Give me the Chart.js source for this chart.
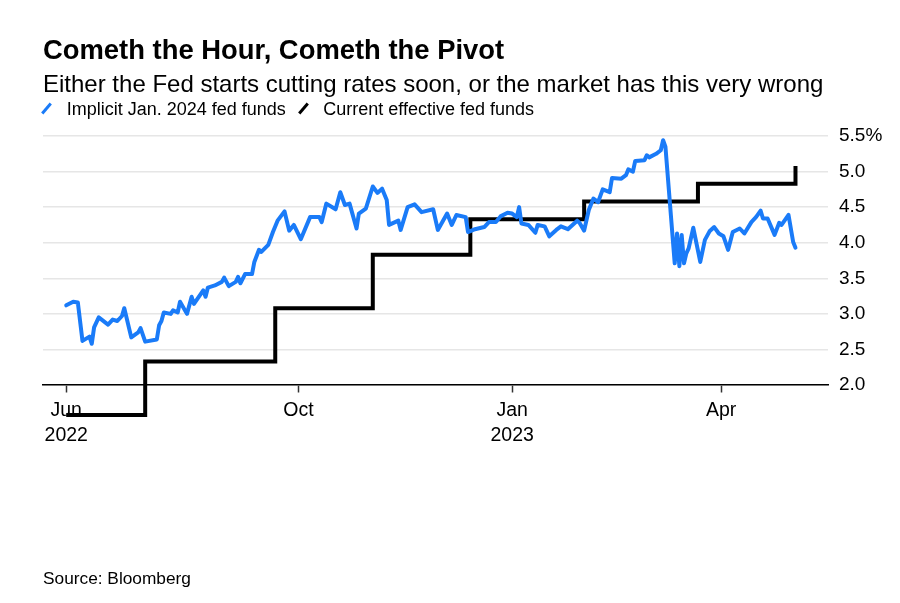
<!DOCTYPE html>
<html>
<head>
<meta charset="utf-8">
<script src="https://cdn.jsdelivr.net/npm/chart.js@4/dist/chart.umd.min.js"></script>
<style>
  html, body { margin: 0; padding: 0; background: #fff; }
  body { width: 900px; height: 603px; position: relative; overflow: hidden;
         font-family: 'Liberation Sans', Arial, Helvetica, sans-serif; color: #000; }
  .txt { position: absolute; white-space: nowrap; line-height: 1; }
  #title { left: 43px; top: 36.2px; font-size: 27.4px; font-weight: bold; }
  #subtitle { left: 43px; top: 72.4px; font-size: 24px; }
  .leg { top: 99.5px; font-size: 18px; }
  .slash { position: absolute; width: 3px; height: 13px; transform: rotate(41deg); }
  #source { left: 43px; top: 570.4px; font-size: 17.3px; }
  #chartBox { position: absolute; left: 0; top: 0; width: 900px; height: 603px; }
</style>
</head>
<body>
<div id="chartBox"><canvas id="c" width="900" height="603"></canvas></div>
<div id="title" class="txt">Cometh the Hour, Cometh the Pivot</div>
<div id="subtitle" class="txt">Either the Fed starts cutting rates soon, or the market has this very wrong</div>
<div class="slash" style="left:45.2px; top:101.7px; background:#1a7bf8;"></div>
<div class="txt leg" style="left:66.7px;">Implicit Jan. 2024 fed funds</div>
<div class="slash" style="left:301.8px; top:101.7px; background:#000;"></div>
<div class="txt leg" style="left:323.3px;">Current effective fed funds</div>
<div id="source" class="txt">Source: Bloomberg</div>
<script>
// Days counted from 2022-06-01 (day 0)
const seriesNames = ['Implicit Jan. 2024 fed funds', 'Current effective fed funds'];

const implDays = [22,25,27,29,32,33,34,36,40,42,44,46,47,50,53,54,56,61,62,63,64,67,68,70,71,74,76,77,81,82,83,86,89,90,92,95,96,97,99,102,103,105,106,109,111,113,116,118,120,123,127,131,132,134,138,140,142,144,147,148,151,154,156,158,160,161,165,166,169,172,175,180,182,186,188,190,194,195,198,202,204,207,209,212,214,216,217,218,221,224,225,228,230,233,235,238,242,243,245,247,249,251,253,256,257,261,263,264,266,267,271,272,273,276,278,279,280,284,285,286,287,288,289,290,292,295,297,299,301,303,305,307,309,312,314,317,319,321,322,324,327,329,330,333,335,336];
const implRate = [3.12,3.17,3.16,2.62,2.68,2.58,2.81,2.95,2.85,2.92,2.90,2.97,3.08,2.67,2.74,2.80,2.61,2.64,2.84,2.90,3.02,3.00,3.05,3.02,3.17,3.00,3.24,3.14,3.33,3.24,3.37,3.40,3.45,3.51,3.39,3.45,3.52,3.43,3.56,3.56,3.73,3.90,3.87,3.97,4.15,4.31,4.44,4.17,4.25,4.05,4.36,4.36,4.29,4.55,4.47,4.71,4.53,4.55,4.20,4.41,4.48,4.79,4.70,4.76,4.60,4.25,4.31,4.18,4.50,4.54,4.43,4.47,4.18,4.41,4.25,4.39,4.36,4.15,4.19,4.22,4.29,4.29,4.37,4.42,4.41,4.36,4.50,4.27,4.25,4.14,4.25,4.23,4.09,4.18,4.23,4.19,4.31,4.28,4.17,4.46,4.62,4.57,4.75,4.71,4.91,4.90,4.95,5.03,5.00,5.15,5.16,5.23,5.20,5.25,5.30,5.44,5.35,3.71,4.13,3.67,4.11,3.71,3.85,3.92,4.21,3.73,4.04,4.16,4.22,4.13,4.09,3.90,4.15,4.20,4.13,4.29,4.36,4.45,4.34,4.34,4.11,4.28,4.25,4.39,4.01,3.93];

// Effective fed funds: value in force from each change day
const effDays = [22,56,112,154,196,245,294,336];
const effRate = [1.58,2.33,3.08,3.83,4.33,4.58,4.83,5.08];

const xTickDays = [22,122,214,304];
const xTickLabels = [['Jun','2022'],['Oct'],['Jan','2023'],['Apr']];
const yTicks = [2.0,2.5,3.0,3.5,4.0,4.5,5.0,5.5];

const implPts = implDays.map((d,i)=>({x:d, y:implRate[i]}));
const effPts = effDays.map((d,i)=>({x:d, y:effRate[i]}));

const FONT = "'Liberation Sans', Arial, Helvetica, sans-serif";

new Chart(document.getElementById('c'), {
  type: 'line',
  data: {
    datasets: [
      { label: seriesNames[0], data: implPts, borderColor: '#1a7bf8', borderWidth: 4,
        pointRadius: 0, tension: 0, borderJoinStyle: 'round', borderCapStyle: 'round', fill: false },
      { label: seriesNames[1], data: effPts, borderColor: '#000', borderWidth: 4, stepped: 'before',
        pointRadius: 0, tension: 0, borderJoinStyle: 'miter', borderCapStyle: 'butt', fill: false }
    ]
  },
  options: {
    responsive: false,
    animation: false,
    devicePixelRatio: 1,
    layout: { padding: { left: 43, top: 136, right: 0, bottom: 182.4 } },
    plugins: { legend: { display: false }, tooltip: { enabled: false } },
    scales: {
      x: {
        type: 'linear', min: 12, max: 350,
        position: { y: 2 },
        afterBuildTicks: (s) => { s.ticks = xTickDays.map(v => ({ value: v })); },
        ticks: {
          autoSkip: false, maxRotation: 0, padding: 6, color: '#000',
          font: { family: FONT, size: 19.5, lineHeight: 25/19.5 },
          callback: (v, i) => xTickLabels[i]
        },
        grid: { drawOnChartArea: false, drawTicks: true, tickLength: 7, tickWidth: 1.5, tickColor: '#333' },
        border: { display: true, color: '#000', width: 1.5 }
      },
      y: {
        type: 'linear', position: 'right', min: 1.5, max: 5.5,
        afterBuildTicks: (s) => { s.ticks = yTicks.map(v => ({ value: v })); },
        afterFit: (s) => { s.width = 72; },
        ticks: {
          padding: 11, color: '#000',
          font: { family: FONT, size: 19 },
          callback: (v) => (v === 5.5 ? '5.5%' : v.toFixed(1))
        },
        grid: { color: '#e6e6e6', lineWidth: 1.5, drawTicks: false },
        border: { display: false }
      }
    }
  }
});
</script>
</body>
</html>
